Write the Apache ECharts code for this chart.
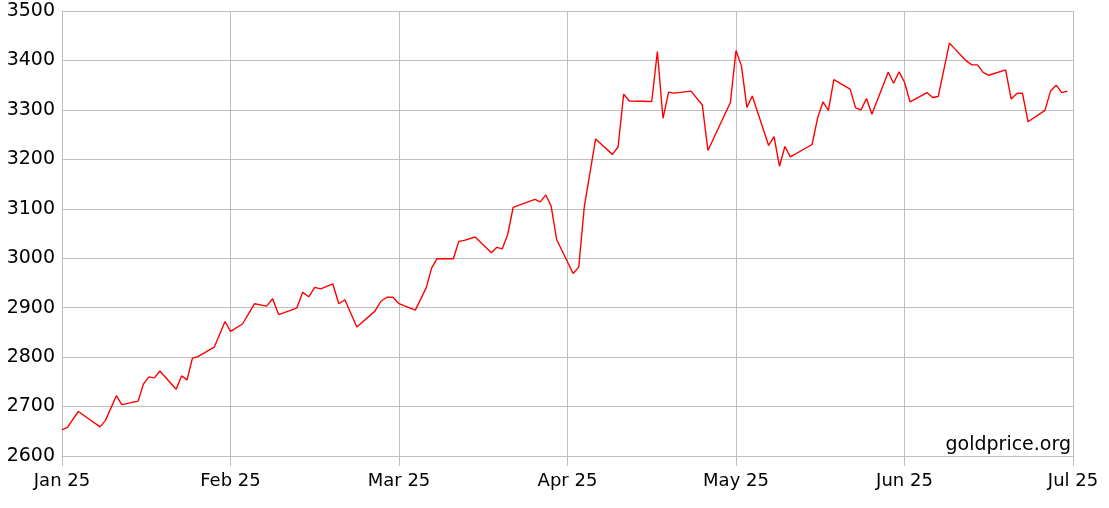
<!DOCTYPE html>
<html>
<head>
<meta charset="utf-8">
<script src="https://cdn.jsdelivr.net/npm/echarts@6/dist/echarts.min.js"></script>
<style>
html,body{margin:0;padding:0;background:#fff;}
#chart{width:1109px;height:508px;}
</style>
</head>
<body>
<div id="chart"></div>
<script>
// Month tick labels (one per month boundary)
var monthLabels = ['Jan 25', 'Feb 25', 'Mar 25', 'Apr 25', 'May 25', 'Jun 25', 'Jul 25'];
var yMin = 2600, yMax = 3500, yStep = 100;

// Gold price (USD/oz)
var dates = [
  '2025-01-01','2025-01-02','2025-01-04','2025-01-08','2025-01-09','2025-01-11','2025-01-12','2025-01-15','2025-01-16','2025-01-17',
  '2025-01-18','2025-01-19','2025-01-22','2025-01-23','2025-01-24','2025-01-25','2025-01-26','2025-01-29','2025-01-31',
  '2025-02-01','2025-02-03','2025-02-05','2025-02-07','2025-02-08','2025-02-09','2025-02-12','2025-02-13','2025-02-14','2025-02-15',
  '2025-02-16','2025-02-18','2025-02-19','2025-02-20','2025-02-22','2025-02-25','2025-02-26','2025-02-27','2025-02-28',
  '2025-03-01','2025-03-04','2025-03-06','2025-03-07','2025-03-08','2025-03-11','2025-03-12','2025-03-13','2025-03-15','2025-03-18',
  '2025-03-19','2025-03-20','2025-03-21','2025-03-22','2025-03-26','2025-03-27','2025-03-28','2025-03-29','2025-03-30',
  '2025-04-02','2025-04-03','2025-04-04','2025-04-06','2025-04-09','2025-04-10','2025-04-11','2025-04-12','2025-04-16','2025-04-17',
  '2025-04-18','2025-04-19','2025-04-20','2025-04-23','2025-04-25','2025-04-26','2025-04-30',
  '2025-05-01','2025-05-02','2025-05-03','2025-05-04','2025-05-07','2025-05-08','2025-05-09','2025-05-10','2025-05-11','2025-05-15',
  '2025-05-16','2025-05-17','2025-05-18','2025-05-19','2025-05-22','2025-05-23','2025-05-24','2025-05-25','2025-05-26','2025-05-29',
  '2025-05-30','2025-05-31',
  '2025-06-01','2025-06-02','2025-06-05','2025-06-06','2025-06-07','2025-06-09','2025-06-12','2025-06-13','2025-06-14','2025-06-15',
  '2025-06-16','2025-06-19','2025-06-20','2025-06-21','2025-06-22','2025-06-23','2025-06-26','2025-06-27','2025-06-28','2025-06-29',
  '2025-06-30'
];
var prices = [
  2653, 2658, 2690, 2659, 2672, 2722, 2704, 2711, 2746, 2760,
  2758, 2772, 2735, 2762, 2754, 2798, 2801, 2820, 2872,
  2852, 2867, 2908, 2903, 2918, 2886, 2899, 2931, 2922, 2941,
  2938, 2948, 2908, 2916, 2861, 2893, 2913, 2921, 2921,
  2908, 2895, 2940, 2980, 2999, 2999, 3034, 3036, 3043, 3011,
  3022, 3019, 3048, 3103, 3119, 3114, 3128, 3105, 3038,
  2969, 2982, 3105, 3241, 3210, 3225, 3332, 3318, 3317, 3418,
  3283, 3336, 3334, 3338, 3310, 3218, 3315,
  3420, 3389, 3305, 3328, 3228, 3246, 3186, 3226, 3205, 3230,
  3283, 3316, 3299, 3361, 3342, 3304, 3300, 3323, 3291, 3376,
  3354, 3377,
  3356, 3316, 3335, 3325, 3327, 3435, 3399, 3391, 3391, 3376,
  3370, 3381, 3322, 3333, 3334, 3276, 3299, 3338, 3350, 3335,
  3338
];

// Each month occupies an equal width on the axis: position = month index + fraction of month
function monthPos(dateStr) {
  var p = dateStr.split('-');
  var y = +p[0], m = +p[1] - 1, d = +p[2];
  var dim = new Date(y, m + 1, 0).getDate();
  return m + (d - 1) / dim;
}
var seriesData = dates.map(function (d, i) { return [monthPos(d), prices[i]]; });

var FONT = 'DejaVu Sans';
var GRID_COLOR = '#bfbfbf';

var chart = echarts.init(document.getElementById('chart'), null, {renderer: 'canvas'});
chart.setOption({
  animation: false,
  backgroundColor: '#ffffff',
  grid: {left: 62, right: 36, top: 11, bottom: 52, containLabel: false},
  xAxis: {
    type: 'value',
    min: 0,
    max: monthLabels.length - 1,
    interval: 1,
    axisLine: {show: true, lineStyle: {color: GRID_COLOR, width: 1}},
    axisTick: {show: true, length: 10, lineStyle: {color: GRID_COLOR, width: 1}},
    splitLine: {show: true, lineStyle: {color: GRID_COLOR, width: 1}},
    axisLabel: {
      color: '#000', fontFamily: FONT, fontSize: 18, margin: 16,
      formatter: function (v) { return monthLabels[Math.round(v)] || ''; }
    }
  },
  yAxis: {
    type: 'value',
    min: yMin,
    max: yMax,
    interval: yStep,
    axisLine: {show: true, lineStyle: {color: GRID_COLOR, width: 1}},
    axisTick: {show: false},
    splitLine: {show: true, lineStyle: {color: GRID_COLOR, width: 1}},
    axisLabel: {
      color: '#000', fontFamily: FONT, fontSize: 19, margin: 7,
      formatter: function (v) { return String(v); }
    }
  },
  graphic: [{
    type: 'text',
    right: 1109 - 1071,
    top: 436,
    style: {text: 'goldprice.org', fill: '#000', font: '19px "DejaVu Sans"'}
  }],
  series: [{
    type: 'line',
    data: seriesData,
    showSymbol: false,
    symbol: 'none',
    lineStyle: {color: '#ff0000', width: 1.4},
    itemStyle: {color: '#ff0000'}
  }]
});
</script>
</body>
</html>
